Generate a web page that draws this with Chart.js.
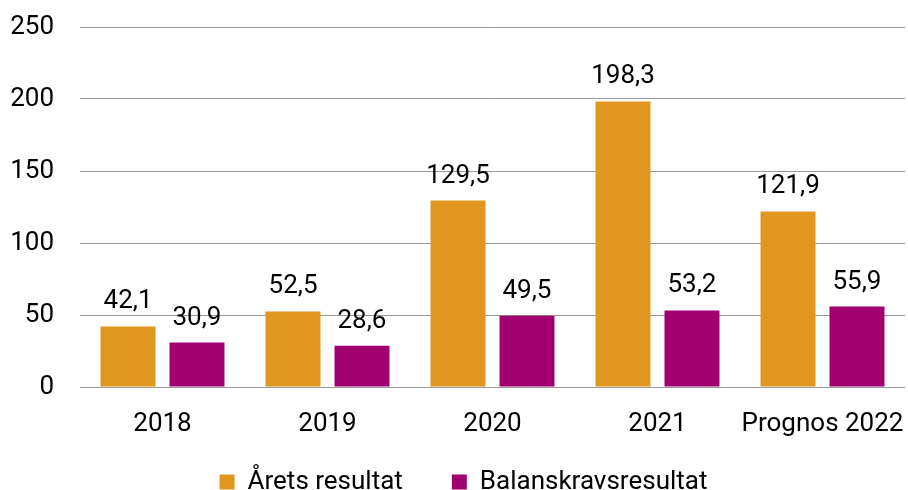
<!DOCTYPE html>
<html><head><meta charset="utf-8">
<script src="https://cdn.jsdelivr.net/npm/chart.js@4/dist/chart.umd.min.js"></script>
<style>html,body{margin:0;padding:0;background:#fff}#wrap{width:908px;height:490px}</style>
</head><body><div id="wrap"><canvas id="c" width="908" height="490"></canvas></div>
<script>
const categories = ["2018", "2019", "2020", "2021", "Prognos 2022"];
const aretsResultat = [42.1, 52.5, 129.5, 198.3, 121.9];
const balanskravsresultat = [30.9, 28.6, 49.5, 53.2, 55.9];
const seriesNames = ["Årets resultat", "Balanskravsresultat"];
const yTicks = [0, 50, 100, 150, 200, 250];

const FONT = "Roboto";
const FS = 26;

// fixed legend height so the plot keeps its place
const LegendCls = Chart.registry.getPlugin("legend")._element;
const origFit = LegendCls.prototype.fit;
LegendCls.prototype.fit = function () { origFit.call(this); this.height = 48; };

const valueLabels = {
  id: "valueLabels",
  afterDatasetsDraw(chart) {
    const ctx = chart.ctx;
    ctx.save();
    ctx.font = FS + "px " + FONT;
    ctx.fillStyle = "#000";
    ctx.textAlign = "center";
    ctx.textBaseline = "alphabetic";
    chart.data.datasets.forEach((ds, i) => {
      const meta = chart.getDatasetMeta(i);
      meta.data.forEach((bar, j) => {
        const txt = ds.data[j].toFixed(1).replace(".", ",");
        ctx.fillText(txt, bar.x, bar.y - 18);
      });
    });
    ctx.restore();
  }
};
const legendShift = {
  id: "legendShift",
  afterLayout(chart) {
    const lg = chart.legend;
    if (!lg) return;
    lg.top -= 22;
    lg.bottom = chart.height;
    lg.height = lg.bottom - lg.top;
    lg.left += 11; lg.right += 11;
  }
};

new Chart(document.getElementById("c"), {
  type: "bar",
  data: {
    labels: categories,
    datasets: [
      { label: seriesNames[0], data: aretsResultat, backgroundColor: "#E0961F" },
      { label: seriesNames[1], data: balanskravsresultat, backgroundColor: "#A0006E" }
    ]
  },
  options: {
    responsive: false,
    animation: false,
    devicePixelRatio: 1,
    layout: { padding: { left: 0, right: 3, top: 27, bottom: 0 } },
    datasets: { bar: { categoryPercentage: 0.836, barPercentage: 0.797 } },
    scales: {
      x: {
        grid: { display: false },
        border: { display: false },
        ticks: { color: "#000", font: { family: FONT, size: FS }, padding: 14, maxRotation: 0 },
        afterFit(s) { s.height = 55; s.paddingLeft = 0; s.paddingRight = 0; }
      },
      y: {
        min: 0, max: 250,
        afterBuildTicks(s) { s.ticks = yTicks.map(v => ({ value: v })); },
        grid: { color: "#999", lineWidth: 1, drawTicks: false },
        border: { display: false },
        ticks: { color: "#000", font: { family: FONT, size: FS }, padding: 26 },
        afterFit(s) { s.width = 80; s.paddingTop = 0; s.paddingBottom = 0; }
      }
    },
    plugins: {
      tooltip: { enabled: false },
      legend: {
        position: "bottom",
        labels: { color: "#000", font: { family: FONT, size: FS }, boxWidth: 15, boxHeight: 15, padding: 49 }
      }
    }
  },
  plugins: [valueLabels, legendShift]
});
</script></body></html>
